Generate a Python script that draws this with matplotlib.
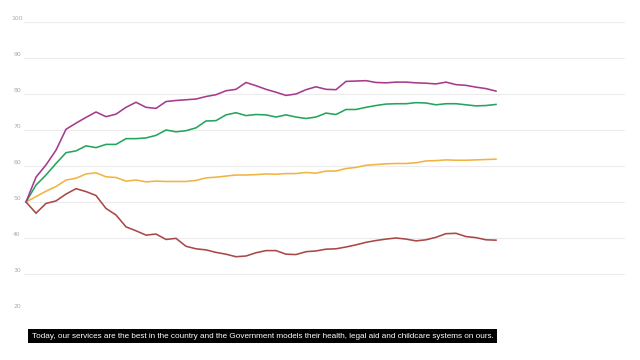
import matplotlib
matplotlib.use("Agg")
import matplotlib.pyplot as plt
from matplotlib.patches import Rectangle
import numpy as np

# values, one per period
purple = [50, 56.9, 60.3, 64.4, 70.2, 71.9, 73.5, 75.0, 73.7, 74.4, 76.3, 77.7,
          76.3, 76.0, 77.9, 78.2, 78.4, 78.6, 79.3, 79.8, 80.9, 81.3, 83.2, 82.3,
          81.3, 80.5, 79.6, 80.0, 81.2, 82.0, 81.3, 81.2, 83.5, 83.6, 83.7, 83.2,
          83.1, 83.3, 83.3, 83.1, 83.0, 82.8, 83.3, 82.6, 82.4, 81.9, 81.5, 80.8]
green = [50, 54.7, 57.5, 60.7, 63.7, 64.2, 65.6, 65.1, 66.0, 66.0, 67.6, 67.6,
         67.8, 68.5, 70.0, 69.5, 69.8, 70.6, 72.5, 72.6, 74.2, 74.8, 74.0, 74.3,
         74.2, 73.6, 74.2, 73.6, 73.2, 73.6, 74.7, 74.3, 75.7, 75.7, 76.3, 76.8,
         77.2, 77.3, 77.3, 77.6, 77.5, 77.0, 77.3, 77.3, 77.0, 76.7, 76.8, 77.1]
yellow = [50, 51.5, 53.0, 54.3, 56.1, 56.6, 57.8, 58.1, 57.0, 56.8, 55.8, 56.1,
          55.6, 55.8, 55.7, 55.7, 55.7, 56.0, 56.7, 56.9, 57.2, 57.5, 57.5, 57.6,
          57.8, 57.7, 57.9, 57.9, 58.2, 58.0, 58.6, 58.6, 59.3, 59.6, 60.2, 60.4,
          60.6, 60.7, 60.7, 60.9, 61.4, 61.5, 61.7, 61.6, 61.6, 61.7, 61.8, 61.9]
red = [50, 46.9, 49.6, 50.3, 52.2, 53.7, 52.9, 51.8, 48.2, 46.4, 43.1, 42.0,
       40.8, 41.1, 39.6, 39.9, 37.7, 37.0, 36.7, 36.0, 35.5, 34.8, 35.0, 35.9,
       36.5, 36.5, 35.5, 35.4, 36.2, 36.4, 36.9, 37.0, 37.5, 38.1, 38.8, 39.3,
       39.7, 40.0, 39.7, 39.2, 39.5, 40.2, 41.2, 41.3, 40.4, 40.1, 39.5, 39.4]

yticks = [20, 30, 40, 50, 60, 70, 80, 90, 100]
caption = ("Today, our services are the best in the country and the Government "
           "models their health, legal aid and childcare systems on ours.")

W, H = 640, 360
fig = plt.figure(figsize=(6.4, 3.6), dpi=100)
ax = fig.add_axes([24 / W, 50 / H, 601 / W, 288 / H])

x = np.arange(len(purple))
for ys, c in [(red, "#a94848"), (yellow, "#f2b440"),
              (green, "#22a55c"), (purple, "#a63a8e")]:
    ax.plot(x, ys, color=c, lw=1.15, solid_joinstyle="miter")

for v in yticks:
    ax.axhline(v, color="#ececec", lw=0.8, zorder=0)
    ax.text(-0.9, v + 0.9, str(v), fontsize=4.4, color="#aaaaaa",
            ha="center", va="center")

ax.set_xlim(-0.2, 59.9)
ax.set_ylim(20, 100)
ax.axis("off")

# caption: black strip with white text squeezed to the strip width
box_x0, box_x1, box_y0, box_y1 = 28, 497, 329, 343
fig.add_artist(Rectangle((box_x0 / W, 1 - box_y1 / H), (box_x1 - box_x0) / W,
                         (box_y1 - box_y0) / H, transform=fig.transFigure,
                         fc="black", ec="none"))
cap = fig.text((box_x0 + box_x1) / 2 / W, 1 - (box_y0 + box_y1) / 2 / H, caption,
               color="white", fontsize=7, family=["Liberation Sans", "DejaVu Sans"],
               ha="center", va="center")
fig.canvas.draw()
w = cap.get_window_extent().width
cap.set_fontsize(7 * (box_x1 - box_x0 - 6) / w)

fig.savefig("out.png", dpi=100)
